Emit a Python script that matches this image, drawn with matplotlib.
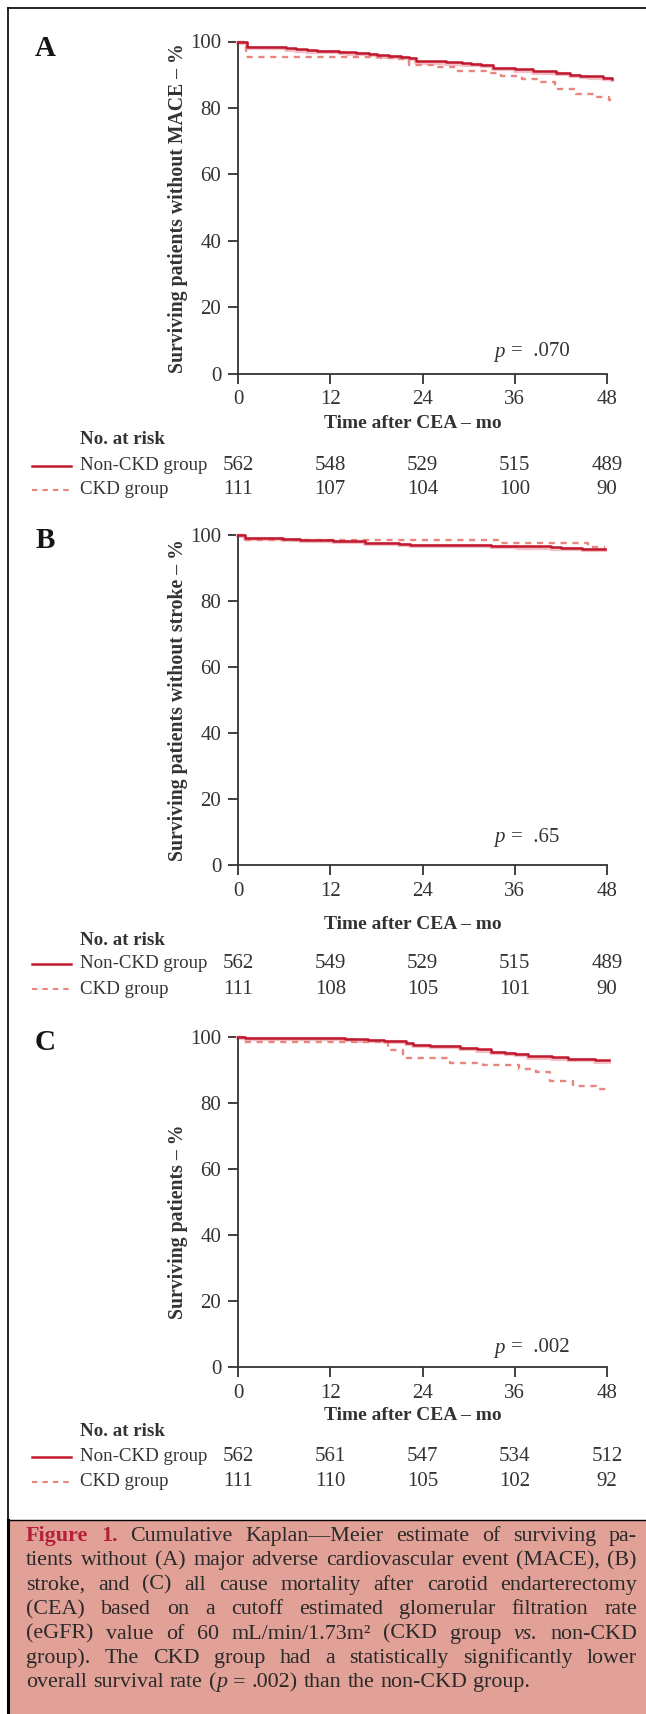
import matplotlib
matplotlib.use('Agg')
import matplotlib.pyplot as plt
from matplotlib.lines import Line2D
from matplotlib.patches import Rectangle
from matplotlib.transforms import blended_transform_factory, offset_copy

plt.rcParams['font.family'] = ['Liberation Serif', 'DejaVu Serif']

W, H = 646, 1714

# ---- data ----
months = [0, 12, 24, 36, 48]
yticks = [0, 20, 40, 60, 80, 100]

# panel A: MACE-free survival
a_non_t = [0, 1.17, 6.3, 7.5, 9.0, 10.3, 13.1, 14.2, 15.3, 17.0, 18.1, 19.6, 21.2, 22.3, 23.2,
           27.0, 29.2, 30.3, 31.6, 33.2, 36.0, 38.4, 41.4, 43.2, 44.5, 45.6, 47.5, 48.7]
a_non_s = [100, 98.3, 97.9, 97.6, 97.3, 97.1, 96.9, 96.7, 96.5, 96.2, 95.8, 95.6, 95.4, 95.1, 94.0,
           93.7, 93.4, 93.2, 93.0, 92.0, 91.6, 91.0, 90.5, 90.0, 89.7, 89.5, 89.0, 88.8]
a_ckd_t = [0, 1.0, 18.6, 21.0, 22.2, 25.9, 28.4, 32.3, 34.2, 37.0, 39.3, 41.2, 44.0, 46.6, 48.2, 48.7]
a_ckd_s = [100, 95.2, 95.0, 94.8, 92.8, 92.3, 91.1, 90.5, 89.6, 88.6, 87.8, 85.6, 84.3, 83.2, 82.3, 82.3]
a_risk_non = [562, 548, 529, 515, 489]
a_risk_ckd = [111, 107, 104, 100, 90]

# panel B: stroke-free survival
b_non_t = [0, 0.87, 5.9, 8.0, 12.4, 16.5, 20.9, 22.4, 32.9, 36.3, 40.7, 42.0, 44.8, 47.8]
b_non_s = [100, 99.0, 98.6, 98.4, 98.0, 97.4, 97.1, 96.9, 96.6, 96.4, 96.1, 95.9, 95.6, 95.6]
b_ckd_t = [0, 0.8, 33.8, 45.5, 47.8]
b_ckd_s = [100, 98.3, 97.3, 96.1, 96.1]
b_risk_non = [562, 549, 529, 515, 489]
b_risk_ckd = [111, 108, 105, 101, 90]

# panel C: overall survival
c_non_t = [0, 0.9, 13.9, 15.4, 16.9, 19.0, 21.8, 22.8, 25.0, 28.9, 31.1, 32.9, 34.7, 36.0,
           37.7, 40.8, 42.9, 46.5, 48.3]
c_non_s = [100, 99.5, 99.3, 99.1, 98.9, 98.7, 98.0, 97.4, 97.1, 96.5, 96.1, 95.3, 95.1, 94.8,
           94.0, 93.7, 93.2, 92.8, 92.8]
c_ckd_t = [0, 0.7, 19.5, 21.5, 27.6, 31.9, 36.6, 38.8, 40.6, 43.6, 46.6, 48.3]
c_ckd_s = [100, 98.2, 95.8, 93.5, 91.9, 91.4, 90.1, 89.2, 86.5, 85.0, 84.1, 84.1]
c_risk_non = [562, 561, 547, 534, 512]
c_risk_ckd = [111, 110, 105, 102, 92]

p_values = ['.070', '.65', '.002']
ylabels = ['Surviving patients without MACE \u2013 %',
           'Surviving patients without stroke \u2013 %',
           'Surviving patients \u2013 %']
letters = ['A', 'B', 'C']

NON_COL = '#c0182f'
NON_HALO = '#f3c0c5'
CKD_COL = '#e8867d'
INK = '#333333'
FS = 13.6        # words
NFS = 15         # numbers


def fx(px):
    return px / W


def fy(py):
    return 1 - py / H


fig = plt.figure(figsize=(W / 100, H / 100), dpi=100)

# pixel layout: (axis top, axis bottom, letter y, tick-label y, xlabel y, no-at-risk y, row1 y, row2 y, p y, ylabel centre)
layout = [
    (41.5, 373.8, 49, 400, 424, 440, 465.5, 490, 352, 0.5),
    (534.5, 865.3, 540, 890.7, 924, 940, 964, 989, 837, 0.5),
    (1036.5, 1367.3, 1043, 1391.7, 1416, 1431.7, 1456.7, 1481.7, 1348, 0.44),
]
curves = [(a_non_t, a_non_s, a_ckd_t, a_ckd_s, a_risk_non, a_risk_ckd),
          (b_non_t, b_non_s, b_ckd_t, b_ckd_s, b_risk_non, b_risk_ckd),
          (c_non_t, c_non_s, c_ckd_t, c_ckd_s, c_risk_non, c_risk_ckd)]

X0, X1 = 238, 607
for i in range(3):
    top, bot, ly, tly, xly, nar, r1, r2, py, ylc = layout[i]
    nt, ns, ct, cs, rn, rc = curves[i]
    ax = fig.add_axes([fx(X0), fy(bot), (X1 - X0) / W, (bot - top) / H])
    ax.set_xlim(0, 48)
    ax.set_ylim(0, 100)
    for s in ['top', 'right']:
        ax.spines[s].set_visible(False)
    for s in ['left', 'bottom']:
        ax.spines[s].set_color(INK)
        ax.spines[s].set_linewidth(1.3)
    ax.set_xticks(months)
    ax.set_yticks(yticks)
    ax.tick_params(direction='out', length=7, width=1.3, color=INK,
                   labelsize=NFS, labelcolor=INK)
    ax.tick_params(axis='y', pad=5)
    ax.tick_params(axis='x', pad=5)

    halo = offset_copy(ax.transData, fig=fig, x=0, y=-1.2, units='dots')
    ax.step(nt, ns, where='post', color=NON_HALO, lw=3.0, transform=halo,
            clip_on=False, zorder=2)
    ax.step(ct, cs, where='post', color=CKD_COL, lw=1.7, dashes=(2.6, 2.4),
            clip_on=False, zorder=3)
    ax.step(nt, ns, where='post', color=NON_COL, lw=1.8, clip_on=False, zorder=4)

    ax.set_ylabel(ylabels[i], fontsize=14.2, fontweight='bold', color=INK)
    ax.yaxis.set_label_coords((178 - X0) / (X1 - X0), ylc)
    ax.yaxis.label.set_va('center')
    ax.set_xlabel('Time after CEA \u2013 mo', fontsize=14, fontweight='bold', color=INK)
    ax.xaxis.label.set_va('center')
    ax.xaxis.set_label_coords((413 - X0) / (X1 - X0), (bot - xly) / (bot - top))

    yp = (bot - py) / (bot - top) * 100
    ax.text(33.3, yp, 'p', style='italic', fontsize=NFS, color=INK, ha='left', va='center')
    ax.text(35.5, yp, '=  ' + p_values[i], fontsize=NFS, color=INK, ha='left', va='center')

    fig.text(fx(45), fy(ly), letters[i], fontsize=21, fontweight='bold',
             color='#151515', ha='center', va='center')

    # risk table
    fig.text(fx(79.5), fy(nar), 'No. at risk', fontsize=FS, fontweight='bold',
             color=INK, ha='left', va='center')
    fig.add_artist(Line2D([fx(32), fx(71)], [fy(r1), fy(r1)], color=NON_COL, lw=1.8))
    fig.add_artist(Line2D([fx(32), fx(71)], [fy(r2), fy(r2)], color=CKD_COL, lw=1.5,
                          dashes=(2.6, 2.4)))
    fig.text(fx(79.5), fy(r1), 'Non-CKD group', fontsize=FS, color=INK, ha='left', va='center')
    fig.text(fx(79.5), fy(r2), 'CKD group', fontsize=FS, color=INK, ha='left', va='center')
    tr = blended_transform_factory(ax.transData, fig.transFigure)
    for m, n1, n2 in zip(months, rn, rc):
        ax.text(m, fy(r1), str(n1), transform=tr, fontsize=NFS, color=INK,
                ha='center', va='center', clip_on=False)
        ax.text(m, fy(r2), str(n2), transform=tr, fontsize=NFS, color=INK,
                ha='center', va='center', clip_on=False)

# frame and caption box
CAP_TOP = 1520
fig.add_artist(Rectangle((fx(8), 0), 1 - fx(8), fy(CAP_TOP), transform=fig.transFigure,
                         facecolor='#e2a197', edgecolor='none', zorder=0))
fig.add_artist(Line2D([fx(8), 1], [fy(8), fy(8)], color='black', lw=1.2))
fig.add_artist(Line2D([fx(8), fx(8)], [fy(8), 0], color='black', lw=1.2))
fig.add_artist(Line2D([fx(8), fx(8)], [fy(CAP_TOP), 0], color='black', lw=2.2))
fig.add_artist(Line2D([fx(8), 1], [fy(CAP_TOP), fy(CAP_TOP)], color='black', lw=1.0))

caption = [
    '#Figure# #1.# Cumulative Kaplan\u2014Meier estimate of surviving pa-',
    'tients without (A) major adverse cardiovascular event (MACE), (B)',
    'stroke, and (C) all cause mortality after carotid endarterectomy',
    '(CEA) based on a cutoff estimated glomerular filtration rate',
    '(eGFR) value of 60 mL/min/1.73m\u00b2 (CKD group _vs._ non-CKD',
    'group). The CKD group had a statistically significantly lower',
    'overall survival rate (_p_ = .002) than the non-CKD group.',
]
styles = {'r': dict(color='#2a2a2a'),
          'i': dict(color='#2a2a2a', style='italic'),
          'b': dict(color='#b3203a', fontweight='bold')}


def parse(word):
    segs, style, buf = [], 'r', ''
    for ch in word:
        if ch in '_#':
            if buf:
                segs.append((buf, style))
            buf = ''
            new = 'i' if ch == '_' else 'b'
            style = 'r' if style == new else new
        else:
            buf += ch
    if buf:
        segs.append((buf, style))
    return segs


renderer = fig.canvas.get_renderer()
CFS = 15.8
L, R = 26, 637


def width_of(s, st):
    t = fig.text(0, 0, s, fontsize=CFS, **styles[st])
    w = t.get_window_extent(renderer).width
    t.remove()
    return w


space_w = width_of('a a', 'r') - width_of('aa', 'r')
for k, line in enumerate(caption):
    words = [parse(w) for w in line.split(' ')]
    widths = [[width_of(s, st) for s, st in w] for w in words]
    total = sum(sum(w) for w in widths)
    if k < len(caption) - 1:
        gap = (R - L - total) / (len(words) - 1)
    else:
        gap = space_w * 1.1
    base = 1535 + k * 24.4 + 6
    x = L
    for w, ws in zip(words, widths):
        for (s, st), sw in zip(w, ws):
            fig.text(fx(x), fy(base), s, fontsize=CFS, ha='left', va='baseline', **styles[st])
            x += sw
        x += gap

fig.savefig('out.png', dpi=100)
